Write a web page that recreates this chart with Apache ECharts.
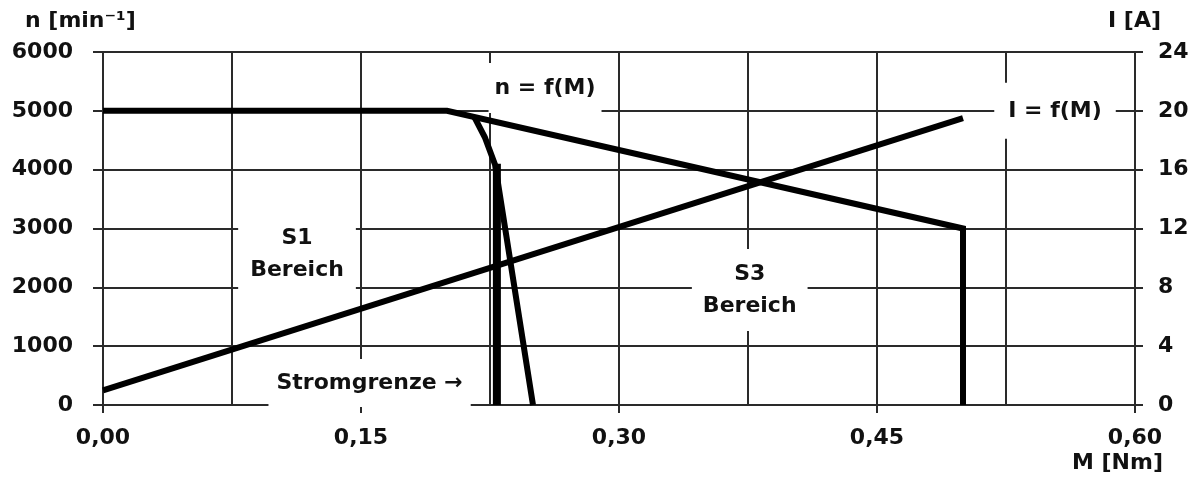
<!DOCTYPE html>
<html>
<head>
<meta charset="utf-8">
<script src="https://cdn.jsdelivr.net/npm/echarts@6/dist/echarts.min.js"></script>
<style>
  html, body { margin: 0; padding: 0; background: #fff; }
  #chart { width: 1199px; height: 482px; }
</style>
</head>
<body>
<div id="chart"></div>
<script>
// Kennlinien: Drehzahl n und Strom I über Drehmoment M
var xTicks = [0, 0.15, 0.30, 0.45, 0.60];
var nTicks = [0, 1000, 2000, 3000, 4000, 5000, 6000];
var iTicks = [0, 4, 8, 12, 16, 20, 24];

// S3 Grenzkurve n = f(M)
var nS3 = [[0, 5000], [0.20, 5000], [0.50, 3000], [0.50, 0]];
// S1 Kurve
var nS1 = [[0.216, 4890], [0.222, 4550], [0.228, 4080], [0.25, 0]];
// Stromgrenze
var limit = [[0.229, 4100], [0.229, 0]];
// I = f(M)
var current = [[0, 1.0], [0.50, 19.5]];

var FONT = 'DejaVu Sans';
var INK = '#111';
var GRID = '#2a2a2a';

var chart = echarts.init(document.getElementById('chart'));

var lineSeries = function (name, data, width, axis) {
  return {
    name: name,
    type: 'line',
    data: data,
    yAxisIndex: axis || 0,
    symbol: 'none',
    silent: true,
    z: 5,
    lineStyle: { color: '#000', width: width, join: 'miter', cap: 'butt' }
  };
};

var noteLabel = function (text, pad) {
  return {
    show: true,
    position: 'inside',
    formatter: text,
    fontFamily: FONT,
    fontWeight: 'bold',
    fontSize: 22,
    lineHeight: 32,
    color: INK,
    opacity: 1,
    align: 'center',
    backgroundColor: '#fff',
    padding: pad
  };
};

chart.setOption({
  animation: false,
  backgroundColor: '#fff',
  grid: { left: 103, right: 64, top: 52, bottom: 77 },
  textStyle: { fontFamily: FONT },
  xAxis: {
    type: 'value',
    min: xTicks[0],
    max: xTicks[xTicks.length - 1],
    interval: 0.15,
    axisLine: { show: true, onZero: false, lineStyle: { color: GRID, width: 2 } },
    axisTick: { show: true, length: 8, lineStyle: { color: GRID, width: 2 } },
    axisLabel: {
      margin: 22,
      fontSize: 22,
      fontWeight: 'bold',
      color: INK,
      formatter: function (v) { return v.toFixed(2).replace('.', ','); }
    },
    splitLine: { show: true, lineStyle: { color: GRID, width: 2 } },
    minorTick: { show: false, splitNumber: 2 },
    minorSplitLine: { show: true, lineStyle: { color: GRID, width: 2 } }
  },
  yAxis: [{
    type: 'value',
    min: nTicks[0],
    max: nTicks[nTicks.length - 1],
    interval: 1000,
    axisLine: { show: true, lineStyle: { color: GRID, width: 2 } },
    axisTick: { show: true, length: 10, lineStyle: { color: GRID, width: 2 } },
    axisLabel: {
      margin: 30, fontSize: 22, fontWeight: 'bold', color: INK,
      formatter: function (v) { return String(v); }
    },
    splitLine: { show: true, lineStyle: { color: GRID, width: 2 } }
  }, {
    type: 'value',
    position: 'right',
    min: iTicks[0],
    max: iTicks[iTicks.length - 1],
    interval: 4,
    axisLine: { show: true, lineStyle: { color: GRID, width: 2 } },
    axisTick: { show: true, length: 8, lineStyle: { color: GRID, width: 2 } },
    axisLabel: {
      margin: 23, fontSize: 22, fontWeight: 'bold', color: INK,
      formatter: function (v) { return String(v); }
    },
    splitLine: { show: false }
  }],
  series: [
    lineSeries('n S3', nS3, 6),
    lineSeries('n S1', nS1, 6),
    lineSeries('Stromgrenze', limit, 8),
    lineSeries('I', current, 6, 1),
    {
      // Beschriftungen im Diagramm
      type: 'scatter',
      symbolSize: 0,
      silent: true,
      z: 10,
      itemStyle: { opacity: 1 },
      data: [
        { value: [0.257, 5390], label: noteLabel('n = f(M)', [10, 6, 8, 6]) },
        { value: [0.5535, 5000], label: noteLabel('I = f(M)', [12, 14, 12, 14]) },
        { value: [0.1128, 2568], label: noteLabel('S1\nBereich', [8, 12, 8, 12]) },
        { value: [0.376, 1956], label: noteLabel('S3\nBereich', [10, 11, 8, 11]) },
        { value: [0.155, 374], label: noteLabel('Stromgrenze →', [8, 8, 8, 8]) }
      ]
    }
  ],
  graphic: [
    { type: 'text', left: 25, top: 10, style: { text: 'n [min⁻¹]', font: 'bold 22px "DejaVu Sans"', fill: INK } },
    { type: 'text', left: 1108, top: 10, style: { text: 'I [A]', font: 'bold 22px "DejaVu Sans"', fill: INK } },
    { type: 'text', right: 36, top: 452, style: { text: 'M [Nm]', font: 'bold 22px "DejaVu Sans"', fill: INK } }
  ]
});
</script>
</body>
</html>
